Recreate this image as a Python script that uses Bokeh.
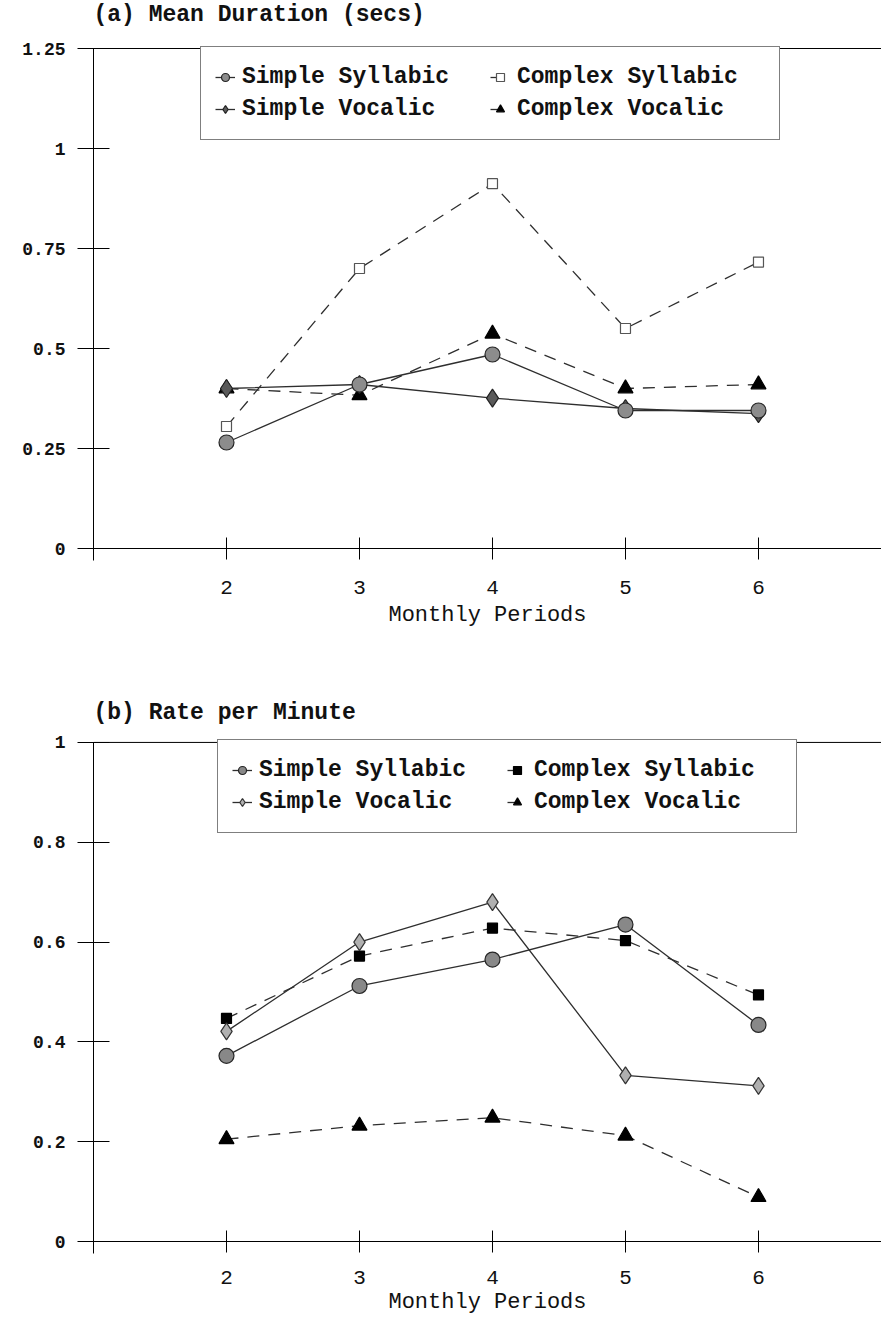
from bokeh.plotting import figure
from bokeh.models import Range1d, FixedTicker, Span, Legend, LegendItem, LinearAxis, Label
from bokeh.layouts import column
from bokeh.embed import file_html
from bokeh.resources import INLINE

# ---------------- data ----------------
periods = [2, 3, 4, 5, 6]
series_names = ["Simple Syllabic", "Complex Syllabic", "Simple Vocalic", "Complex Vocalic"]

dur_simple_syllabic = [0.265, 0.41, 0.485, 0.345, 0.345]
dur_complex_syllabic = [0.305, 0.70, 0.912, 0.55, 0.716]
dur_simple_vocalic = [0.40, 0.41, 0.376, 0.35, 0.337]
dur_complex_vocalic = [0.40, 0.383, 0.537, 0.40, 0.41]

rate_simple_syllabic = [0.372, 0.512, 0.565, 0.635, 0.434]
rate_complex_syllabic = [0.447, 0.572, 0.628, 0.603, 0.494]
rate_simple_vocalic = [0.421, 0.600, 0.680, 0.333, 0.312]
rate_complex_vocalic = [0.205, 0.232, 0.248, 0.212, 0.089]

dur_ticks = [0, 0.25, 0.5, 0.75, 1, 1.25]
dur_tick_labels = ["0", "0.25", "0.5", "0.75", "1", "1.25"]
rate_ticks = [0, 0.2, 0.4, 0.6, 0.8, 1]
rate_tick_labels = ["0", "0.2", "0.4", "0.6", "0.8", "1"]
x_tick_labels = ["2", "3", "4", "5", "6"]

title_a = "(a) Mean Duration (secs)"
title_b = "(b) Rate per Minute"
x_title = "Monthly Periods"

MONO = "Liberation Mono"
LINE_COL = "#2e2e2e"
FIG_W = 881
LEFT_B = 93


def build(title, values, yticks, ylabels, px_per_unit, below_zero_px, height,
          top_px, bottom_b, title_up, legend_x, styles, lab_standoff, axlab_standoff):
    top_tick = yticks[-1]
    ylo = -below_zero_px / px_per_unit
    yhi = top_tick + top_px / px_per_unit
    p = figure(width=FIG_W, height=height, x_range=Range1d(1, 6.925),
               y_range=Range1d(ylo, yhi), output_backend="svg", title=None,
               toolbar_location=None, min_border_left=LEFT_B, min_border_right=0,
               min_border_top=0, min_border_bottom=bottom_b)
    p.outline_line_color = None
    p.xgrid.visible = False
    p.ygrid.visible = False
    p.background_fill_color = "white"
    p.border_fill_color = "white"

    # panel title, placed above the top border line
    p.add_layout(Label(x=1, y=top_tick, x_units="data", y_units="data",
                       y_offset=title_up, text=title, text_font=MONO,
                       text_font_style="bold", text_font_size="23px",
                       text_color="#111111", text_baseline="middle",
                       text_align="left"))

    # x axis line and ticks drawn at y = 0
    xa = p.xaxis[0]
    xa.ticker = FixedTicker(ticks=periods)
    xa.fixed_location = 0
    xa.major_tick_in = 11
    xa.major_tick_out = 11
    xa.minor_tick_line_color = None
    xa.axis_line_color = "black"
    xa.major_tick_line_color = "black"
    xa.major_label_text_color = None
    xa.major_label_text_font_size = "1px"

    # labels of the x axis (below the frame)
    xl = LinearAxis(ticker=FixedTicker(ticks=periods),
                    major_label_overrides={t: s for t, s in zip(periods, x_tick_labels)},
                    axis_line_color=None, major_tick_line_color=None,
                    minor_tick_line_color=None, major_tick_in=0, major_tick_out=0,
                    major_label_standoff=lab_standoff,
                    major_label_text_font=MONO, major_label_text_font_size="21px",
                    major_label_text_color="#111111",
                    axis_label=x_title, axis_label_standoff=axlab_standoff,
                    axis_label_text_font=MONO, axis_label_text_font_style="normal",
                    axis_label_text_font_size="22px", axis_label_text_color="#111111")
    p.add_layout(xl, "below")

    ya = p.yaxis[0]
    ya.ticker = FixedTicker(ticks=yticks)
    ya.bounds = (ylo, top_tick)
    ya.major_label_overrides = {t: s for t, s in zip(yticks, ylabels)}
    ya.major_tick_in = 16
    ya.major_tick_out = 16
    ya.minor_tick_line_color = None
    ya.axis_line_color = "black"
    ya.major_tick_line_color = "black"
    ya.major_label_standoff = 12
    ya.major_label_text_font = MONO
    ya.major_label_text_font_style = "bold"
    ya.major_label_text_font_size = "18px"
    ya.major_label_text_color = "#111111"

    # top border line at the top tick value
    p.add_layout(Span(location=top_tick, dimension="width",
                      line_color="black", line_width=1))

    renderers = {}
    # draw order: complex syllabic, complex vocalic, simple vocalic, simple syllabic
    for name in [series_names[1], series_names[3], series_names[2], series_names[0]]:
        st = styles[name]
        ys = values[name]
        ln = p.line(periods, ys, line_color=LINE_COL, line_width=1.3,
                    line_dash=st["dash"])
        sc = p.scatter(periods, ys, marker=st["marker"], size=st["size"],
                       fill_color=st["fill"], line_color=st["line"],
                       line_width=1.2)
        renderers[name] = [ln, sc]

    # legend: two columns; column-major order; top edge on the top border line
    order = [series_names[0], series_names[2], series_names[1], series_names[3]]
    items = [LegendItem(label=n, renderers=renderers[n]) for n in order]
    pad = 14
    gh = 32
    leg_h = 2 * pad + 2 * gh
    frame_h = height - bottom_b
    legend = Legend(items=items, ncols=2,
                    location=(legend_x, frame_h - top_px - leg_h),
                    padding=pad, spacing=0, margin=0, glyph_width=20,
                    glyph_height=gh, label_standoff=7, label_width=248,
                    label_text_font=MONO, label_text_font_style="bold",
                    label_text_font_size="23px", label_text_color="#111111",
                    border_line_color="black", border_line_width=1,
                    background_fill_color="white", background_fill_alpha=1.0)
    p.add_layout(legend)
    return p


styles_a = {
    "Simple Syllabic": dict(marker="circle", size=15, fill="#8c8c8c", line="#262626", dash="solid"),
    "Complex Syllabic": dict(marker="square", size=10, fill="white", line="#555555", dash="12 9"),
    "Simple Vocalic": dict(marker="diamond", size=18, fill="#5a5a5a", line="#222222", dash="solid"),
    "Complex Vocalic": dict(marker="triangle", size=15, fill="black", line="black", dash="12 9"),
}
styles_b = {
    "Simple Syllabic": dict(marker="circle", size=15, fill="#888888", line="#262626", dash="solid"),
    "Complex Syllabic": dict(marker="square", size=10, fill="black", line="black", dash="12 9"),
    "Simple Vocalic": dict(marker="diamond", size=17, fill="#b0b0b0", line="#333333", dash="solid"),
    "Complex Vocalic": dict(marker="triangle", size=15, fill="black", line="black", dash="12 9"),
}

vals_a = dict(zip(series_names, [dur_simple_syllabic, dur_complex_syllabic,
                                 dur_simple_vocalic, dur_complex_vocalic]))
vals_b = dict(zip(series_names, [rate_simple_syllabic, rate_complex_syllabic,
                                 rate_simple_vocalic, rate_complex_vocalic]))

# figure 1: 400 px per unit, 1.25 at y=48, 0 at y=548, frame ends at 560, figure ends at 700
p1 = build(title_a, vals_a, dur_ticks, dur_tick_labels, 400, 12, 700,
           48, 140, 34, 107, styles_a, 20, 6)
# figure 2: 500 px per unit, 1 at y=742, 0 at y=1242, frame ends at 1254, figure ends at 1317
p2 = build(title_b, vals_b, rate_ticks, rate_tick_labels, 500, 12, 617,
           42, 63, 29, 124, styles_b, 17, 3)

layout = column(p1, p2, spacing=0)
open("out.html", "w").write(file_html(layout, INLINE))
